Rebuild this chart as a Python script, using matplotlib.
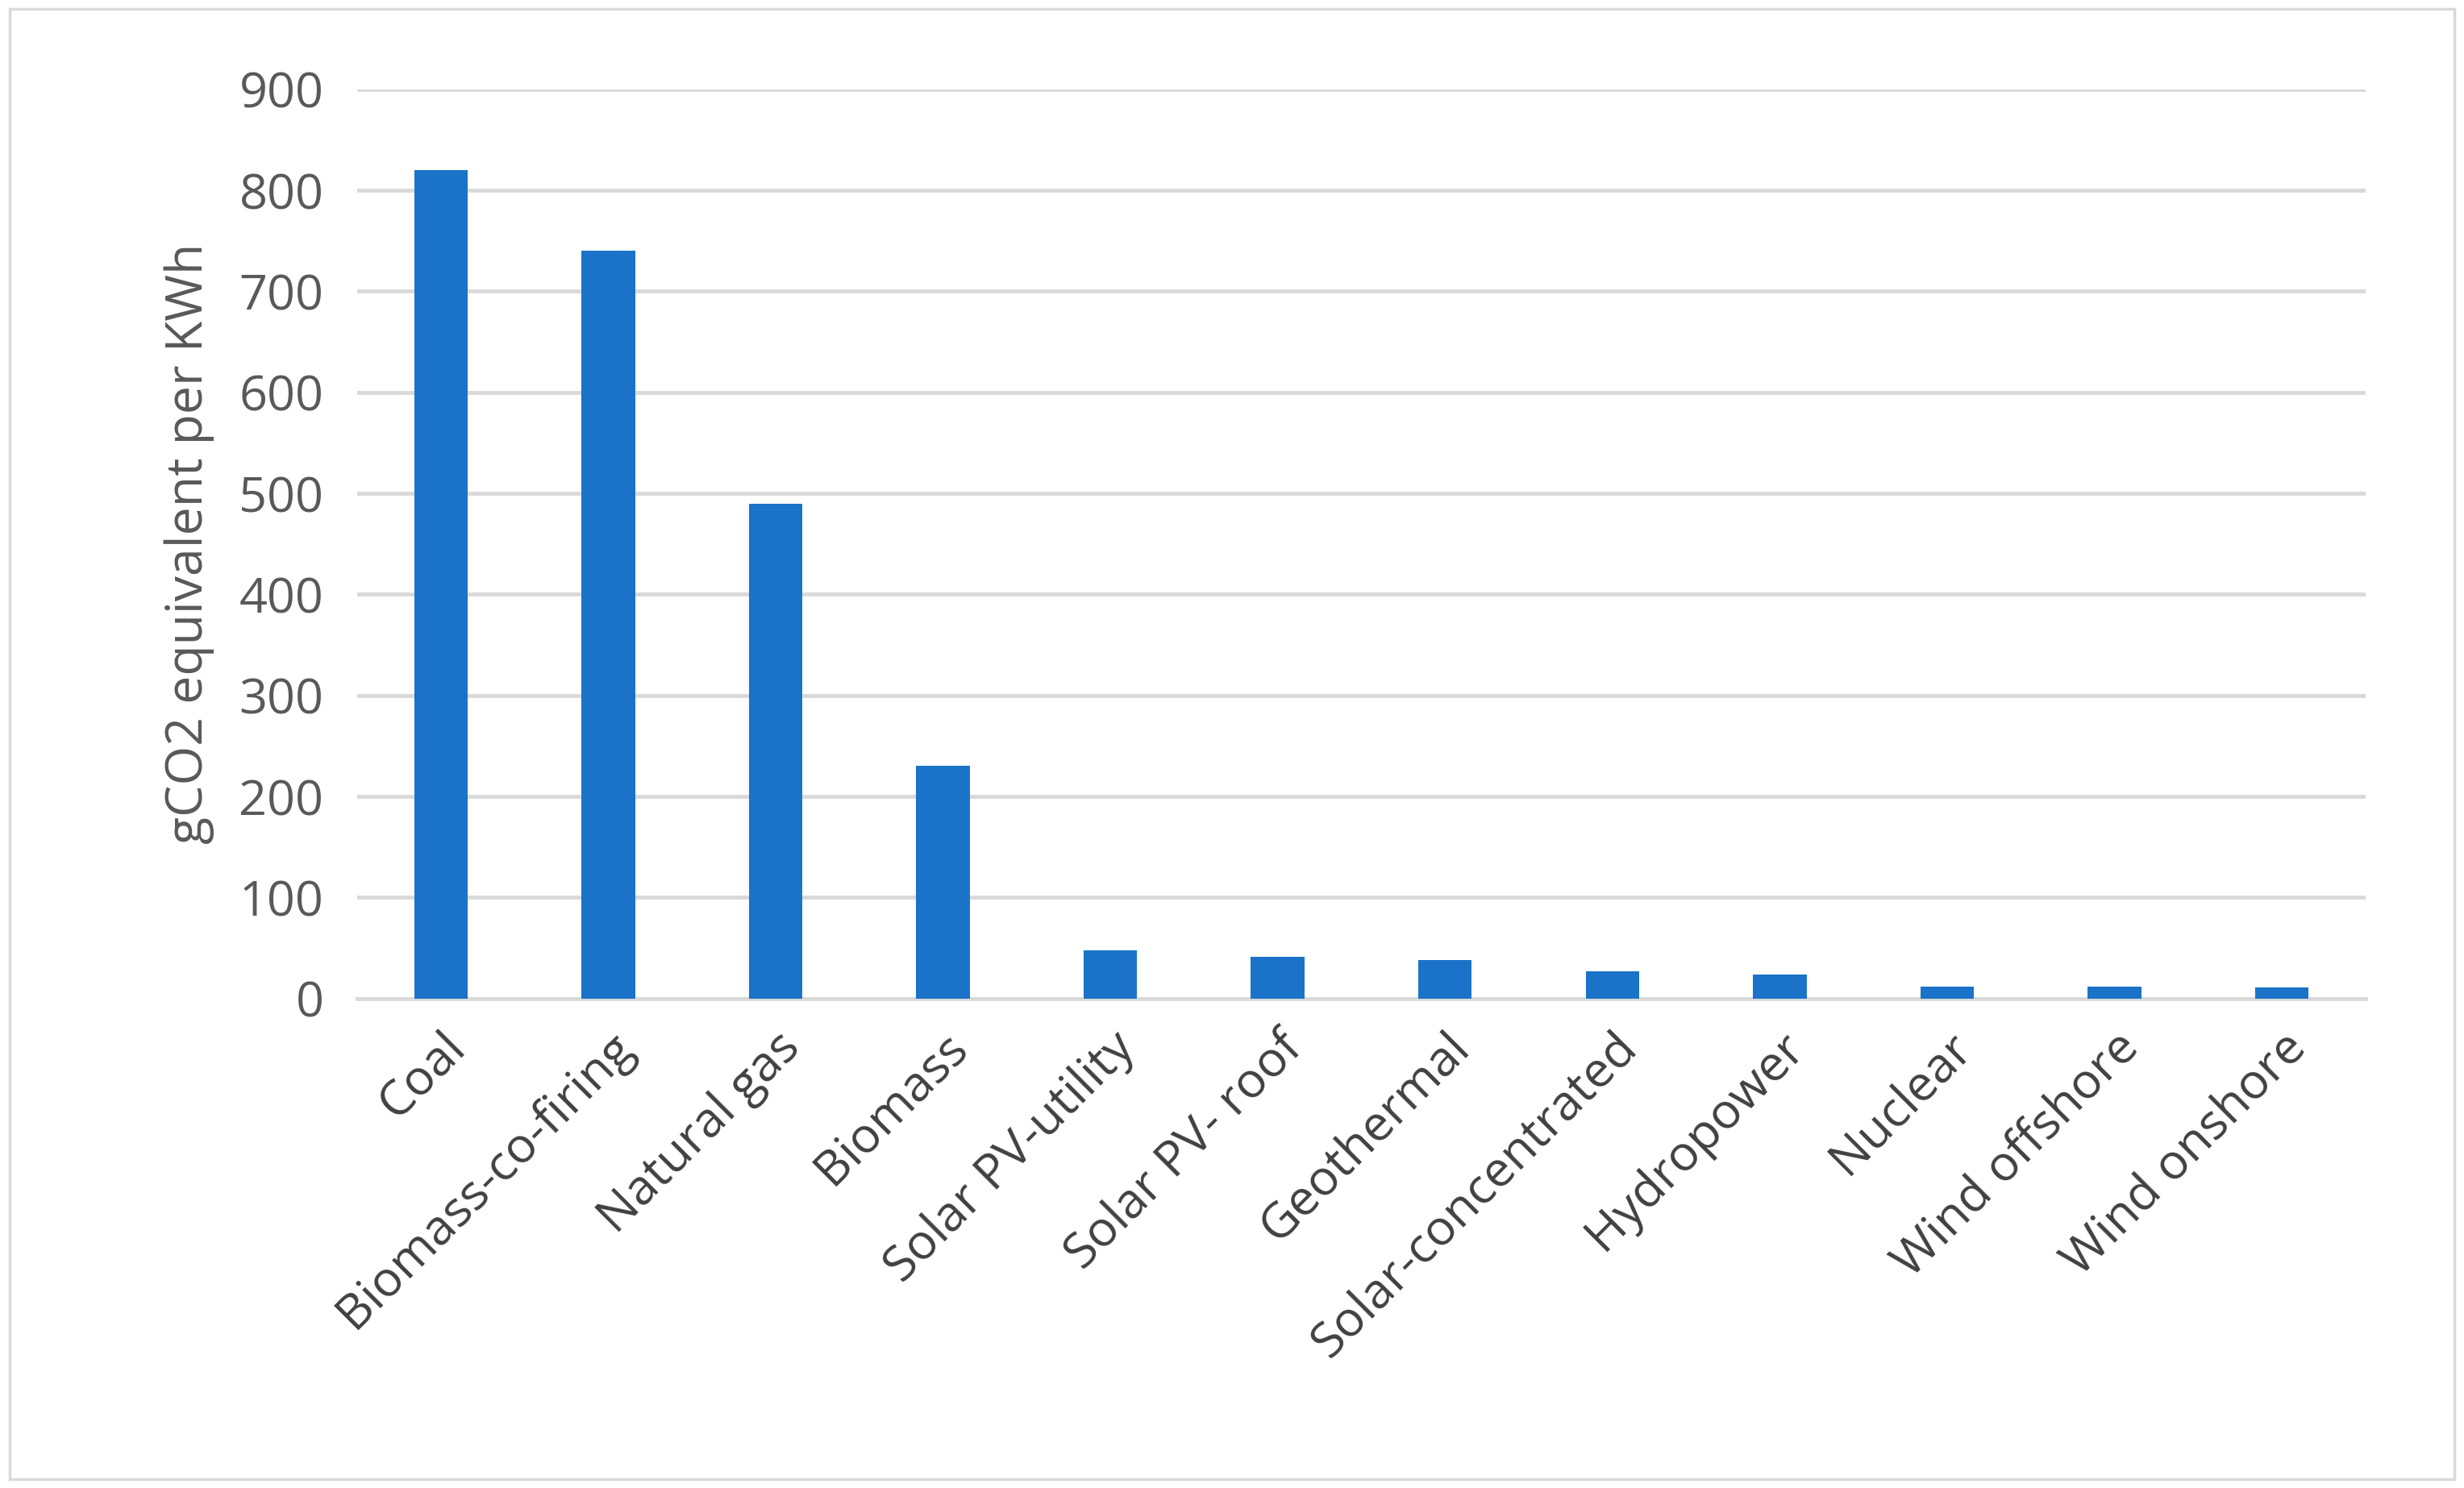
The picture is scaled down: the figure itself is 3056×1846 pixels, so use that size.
import matplotlib
matplotlib.use("Agg")
import matplotlib.pyplot as plt
from matplotlib.patches import Rectangle

plt.rcParams["font.family"] = ["Open Sans", "DejaVu Sans"]

categories = ["Coal", "Biomass-co-firing", "Natural gas", "Biomass", "Solar PV-utility",
              "Solar PV- roof", "Geothermal", "Solar-concentrated", "Hydropower",
              "Nuclear", "Wind offshore", "Wind onshore"]
values = [820, 740, 490, 230, 48, 41, 38, 27, 24, 12, 12, 11]
yticks = [0, 100, 200, 300, 400, 500, 600, 700, 800, 900]

fig = plt.figure(figsize=(30.56, 18.46), dpi=100)
ax = fig.add_axes([0.145, 0.329, 0.815, 0.611])
fig.patches.append(Rectangle((0.004, 0.006), 0.992, 0.988, transform=fig.transFigure,
                             fill=False, edgecolor="#d9d9d9", linewidth=2.5))

x = range(len(categories))
ax.bar(x, values, width=0.32, color="#1a73c8", zorder=3)
ax.set_xlim(-0.5, len(categories) - 0.5)
ax.set_ylim(0, 900)
ax.set_yticks(yticks)
ax.grid(axis="y", color="#d9d9d9", linewidth=3.5, zorder=0)
for s in ["top", "right", "left"]:
    ax.spines[s].set_visible(False)
ax.spines["bottom"].set_color("#d9d9d9")
ax.spines["bottom"].set_linewidth(3.5)
ax.tick_params(axis="y", length=0, labelsize=44, colors="#595959", pad=30)
ax.tick_params(axis="x", length=0, pad=22)
ax.set_xticks(list(x))
ax.set_xticklabels(categories, rotation=45, ha="right", rotation_mode="anchor",
                   color="#404040", fontsize=44)
ax.set_ylabel("gCO2 equivalent per KWh", fontsize=45, color="#595959", labelpad=22)

fig.savefig("out.png", dpi=100)
